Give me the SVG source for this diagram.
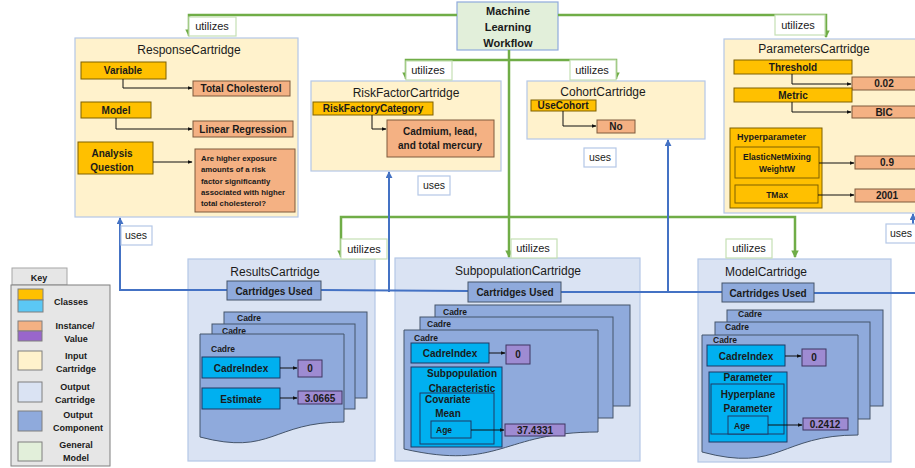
<svg xmlns="http://www.w3.org/2000/svg" width="915" height="468" viewBox="0 0 915 468">
<style>
text{font-family:"Liberation Sans",Arial,sans-serif;fill:#1a1a1a}
.t{font-size:12px}
.b10{font-size:10px;font-weight:bold}
.b9{font-size:9px;font-weight:bold}
.b8{font-size:8.5px;font-weight:bold}
.m{text-anchor:middle}
.inc{fill:#fff2cc;stroke:#b4c7e7;stroke-width:1.2}
.outc{fill:#dae3f3;stroke:#b4c7e7;stroke-width:1.2}
.comp{fill:#8faadc;stroke:#44546a;stroke-width:1}
.cls{fill:#ffc000;stroke:#7f6000;stroke-width:1}
.inst{fill:#f4b183;stroke:#7f5a3c;stroke-width:1}
.cyan{fill:#00b0f0;stroke:#1f3864;stroke-width:1}
.val{fill:#9e8bd2;stroke:#3f3460;stroke-width:1}
.gen{fill:#e2efda;stroke:#8faadc;stroke-width:1.2}
.gl{stroke:#70ad47;stroke-width:2.5;fill:none}
.bl{stroke:#4472c4;stroke-width:2;fill:none}
.kl{stroke:#111;stroke-width:1;fill:none}
.ul{fill:#fff;stroke:#c5e0b4;stroke-width:1.2}
.us{fill:#fff;stroke:#b4c7e7;stroke-width:1.2}
</style>
<defs>
<marker id="ag" viewBox="0 0 8 8" refX="7" refY="4" markerWidth="3" markerHeight="3" orient="auto"><path d="M0 0L8 4L0 8Z" fill="#70ad47"/></marker>
<marker id="ab" viewBox="0 0 8 8" refX="7" refY="4" markerWidth="3.5" markerHeight="3.5" orient="auto"><path d="M0 0L8 4L0 8Z" fill="#4472c4"/></marker>
<marker id="ak" viewBox="0 0 8 8" refX="7" refY="4" markerWidth="5" markerHeight="5" orient="auto"><path d="M0 1L8 4L0 7Z" fill="#111"/></marker>
</defs>

<!-- Key -->
<g id="key">
<rect x="12" y="268" width="55" height="17" fill="#e6e6e6" stroke="#a6a6a6"/>
<text class="b9 m" x="39" y="281">Key</text>
<rect x="11" y="285" width="99" height="181" fill="#e6e6e6" stroke="#7f7f7f"/>
<rect x="18" y="289" width="25" height="11" fill="#ffc000" stroke="#7f7f7f"/>
<rect x="18" y="300" width="25" height="12" fill="#5bc8f5" stroke="#7f7f7f"/>
<text class="b9 m" x="71" y="305">Classes</text>
<rect x="18" y="321" width="24" height="10" fill="#f4b183" stroke="#7f7f7f"/>
<rect x="18" y="331" width="24" height="10" fill="#9966cc" stroke="#7f7f7f"/>
<text class="b9 m" x="75" y="329">Instance/</text>
<text class="b9 m" x="76" y="342">Value</text>
<rect x="18" y="351" width="24" height="19" fill="#fff2cc" stroke="#7f7f7f"/>
<text class="b9 m" x="76" y="359">Input</text>
<text class="b9 m" x="76" y="372">Cartridge</text>
<rect x="18" y="382" width="24" height="20" fill="#dae3f3" stroke="#7f7f7f"/>
<text class="b9 m" x="75" y="390">Output</text>
<text class="b9 m" x="75" y="403">Cartridge</text>
<rect x="18" y="411" width="24" height="20" fill="#8faadc" stroke="#7f7f7f"/>
<text class="b9 m" x="78" y="418">Output</text>
<text class="b9 m" x="78" y="431">Component</text>
<rect x="18" y="442" width="24" height="19" fill="#e2efda" stroke="#7f7f7f"/>
<text class="b9 m" x="76" y="448">General</text>
<text class="b9 m" x="76" y="461">Model</text>
</g>

<!-- Machine Learning Workflow -->
<g id="ml">
<rect class="gen" x="457" y="2" width="101" height="48"/>
<text class="m" style="font-size:11px;font-weight:bold" x="508" y="15">Machine</text>
<text class="m" style="font-size:11px;font-weight:bold" x="508" y="31">Learning</text>
<text class="m" style="font-size:11px;font-weight:bold" x="508" y="47">Workflow</text>
</g>

<!-- ResponseCartridge -->
<g id="response">
<rect class="inc" x="75" y="38" width="223" height="179"/>
<text class="t m" x="189" y="54">ResponseCartridge</text>
<rect class="cls" x="81" y="62" width="85" height="17"/>
<text class="b10 m" x="123" y="74">Variable</text>
<rect class="inst" x="193" y="81" width="97" height="15"/>
<text class="b10 m" x="241" y="92">Total Cholesterol</text>
<path class="kl" d="M123 79V88H192" marker-end="url(#ak)"/>
<rect class="cls" x="81" y="102" width="70" height="16"/>
<text class="b10 m" x="116" y="114">Model</text>
<rect class="inst" x="193" y="121" width="100" height="16"/>
<text class="b10 m" x="243" y="133">Linear Regression</text>
<path class="kl" d="M116 118V129H192" marker-end="url(#ak)"/>
<rect class="cls" x="78" y="142" width="75" height="32"/>
<text class="b10 m" x="112" y="157">Analysis</text>
<text class="b10 m" x="112" y="171">Question</text>
<path class="kl" d="M153 162H192" marker-end="url(#ak)"/>
<rect class="inst" x="195" y="149" width="100" height="63"/>
<text style="font-size:7.8px;font-weight:bold" x="201" y="161">Are higher exposure</text>
<text style="font-size:7.8px;font-weight:bold" x="201" y="172">amounts of a risk</text>
<text style="font-size:7.8px;font-weight:bold" x="201" y="184">factor significantly</text>
<text style="font-size:7.8px;font-weight:bold" x="201" y="195">associated with higher</text>
<text style="font-size:7.8px;font-weight:bold" x="201" y="206">total cholesterol?</text>
</g>

<!-- RiskFactorCartridge -->
<g id="riskfactor">
<rect class="inc" x="311" y="81" width="190" height="90"/>
<text class="t m" x="406" y="97">RiskFactorCartridge</text>
<rect class="cls" x="313" y="102" width="120" height="13"/>
<text class="b10 m" x="373" y="112">RiskFactoryCategory</text>
<rect class="inst" x="387" y="120" width="107" height="37"/>
<text class="b10 m" x="440" y="135">Cadmium, lead,</text>
<text class="b10 m" x="440" y="149">and total mercury</text>
<path class="kl" d="M372 115V129H386" marker-end="url(#ak)"/>
</g>

<!-- CohortCartridge -->
<g id="cohort">
<rect class="inc" x="527" y="81" width="178" height="58"/>
<text class="t m" x="603" y="96">CohortCartridge</text>
<rect class="cls" x="531" y="100" width="65" height="11"/>
<text class="b10 m" x="563" y="109">UseCohort</text>
<rect class="inst" x="597" y="120" width="38" height="13"/>
<text class="b10 m" x="616" y="130">No</text>
<path class="kl" d="M563 111V126H596" marker-end="url(#ak)"/>
</g>

<!-- ParametersCartridge -->
<g id="parameters">
<rect class="inc" x="724" y="39" width="200" height="174"/>
<text class="t m" x="814" y="53">ParametersCartridge</text>
<rect class="cls" x="734" y="60" width="118" height="14"/>
<text class="b10 m" x="793" y="71">Threshold</text>
<rect class="inst" x="852" y="77" width="70" height="13"/>
<text class="b10 m" x="884" y="87">0.02</text>
<path class="kl" d="M792 74V84H851" marker-end="url(#ak)"/>
<rect class="cls" x="734" y="88" width="118" height="14"/>
<text class="b10 m" x="793" y="99">Metric</text>
<rect class="inst" x="852" y="106" width="70" height="12"/>
<text class="b10 m" x="884" y="116">BIC</text>
<path class="kl" d="M792 102V112H851" marker-end="url(#ak)"/>
<rect class="cls" x="730" y="128" width="92" height="80"/>
<text style="font-size:9px;font-weight:bold" x="737" y="140">Hyperparameter</text>
<rect class="cls" x="735" y="147" width="84" height="31"/>
<text class="b8 m" x="777" y="160">ElasticNetMixing</text>
<text class="b8 m" x="777" y="172">WeightW</text>
<rect class="cls" x="735" y="185" width="83" height="18"/>
<text class="b8 m" x="777" y="198">TMax</text>
<rect class="inst" x="855" y="156" width="67" height="13"/>
<text class="b10 m" x="887" y="166">0.9</text>
<rect class="inst" x="855" y="189" width="67" height="13"/>
<text class="b10 m" x="887" y="199">2001</text>
<path class="kl" d="M819 163H854" marker-end="url(#ak)"/>
<path class="kl" d="M818 195H854" marker-end="url(#ak)"/>
</g>

<!-- Output cartridge backgrounds -->
<g id="results-bg"><rect class="outc" x="188" y="259" width="187" height="202"/></g>
<g id="subpopulation-bg"><rect class="outc" x="395" y="258" width="245" height="203"/></g>
<g id="model-bg"><rect class="outc" x="698" y="259" width="193" height="203"/></g>

<!-- Connectors -->
<g id="connectors">
<path class="gl" d="M457 15H189V36" marker-end="url(#ag)"/>
<path class="gl" d="M558 15H826V37" marker-end="url(#ag)"/>
<path class="gl" d="M509 50V257" marker-end="url(#ag)"/>
<path class="gl" d="M509 60H406V79" marker-end="url(#ag)"/>
<path class="gl" d="M509 60H616V79" marker-end="url(#ag)"/>
<path class="gl" d="M509 217H341V257" marker-end="url(#ag)"/>
<path class="gl" d="M509 217H795V257" marker-end="url(#ag)"/>
<path class="bl" d="M227 290H120V218" marker-end="url(#ab)"/>
<path class="bl" d="M321 290L468 291"/>
<path class="bl" d="M389 292V172" marker-end="url(#ab)"/>
<path class="bl" d="M561 292H722"/>
<path class="bl" d="M668 293V140" marker-end="url(#ab)"/>
<path class="bl" d="M814 293H915"/>
<path class="bl" d="M913 224V214" marker-end="url(#ab)"/>
<rect class="ul" x="189" y="17" width="47" height="19"/>
<text class="m" style="font-size:11px" x="212" y="30">utilizes</text>
<rect class="ul" x="775" y="15" width="50" height="20"/>
<text class="m" style="font-size:11px" x="798" y="29">utilizes</text>
<rect class="ul" x="406" y="61" width="46" height="19"/>
<text class="m" style="font-size:11px" x="428" y="74">utilizes</text>
<rect class="ul" x="570" y="60" width="46" height="20"/>
<text class="m" style="font-size:11px" x="592" y="74">utilizes</text>
<rect class="ul" x="341" y="239" width="46" height="20"/>
<text class="m" style="font-size:11px" x="364" y="253">utilizes</text>
<rect class="ul" x="511" y="239" width="46" height="19"/>
<text class="m" style="font-size:11px" x="533" y="252">utilizes</text>
<rect class="ul" x="726" y="239" width="46" height="19"/>
<text class="m" style="font-size:11px" x="749" y="252">utilizes</text>
<rect class="us" x="121" y="226" width="31" height="19"/>
<text class="m" style="font-size:10.5px" x="136" y="239">uses</text>
<rect class="us" x="418" y="176" width="32" height="19"/>
<text class="m" style="font-size:10.5px" x="434" y="189">uses</text>
<rect class="us" x="584" y="148" width="32" height="19"/>
<text class="m" style="font-size:10.5px" x="600" y="161">uses</text>
<rect class="us" x="886" y="224" width="35" height="19"/>
<text class="m" style="font-size:10.5px" x="901" y="237">uses</text>
</g>

<!-- ResultsCartridge -->
<g id="results">
<text class="t m" x="275" y="276">ResultsCartridge</text>
<rect class="comp" x="227" y="281" width="94" height="19"/>
<text class="b10 m" x="274" y="295">Cartridges Used</text>
<rect class="comp" x="224" y="312" width="143" height="86"/>
<text class="b8" x="237" y="321">Cadre</text>
<rect class="comp" x="212" y="324" width="143" height="85"/>
<text class="b8" x="222" y="334">Cadre</text>
<path class="comp" d="M200 334H344V422C272 422 272 456 200 437Z"/>
<text class="b8" x="211" y="352">Cadre</text>
<rect class="cyan" x="202" y="357" width="78" height="21"/>
<text class="b10 m" x="241" y="372">CadreIndex</text>
<rect class="val" x="298" y="360" width="24" height="17"/>
<text class="b10 m" x="310" y="372">0</text>
<path class="kl" d="M280 368H297" marker-end="url(#ak)"/>
<rect class="cyan" x="202" y="388" width="78" height="21"/>
<text class="b10 m" x="241" y="403">Estimate</text>
<rect class="val" x="298" y="391" width="44" height="13"/>
<text class="b10 m" x="320" y="402">3.0665</text>
<path class="kl" d="M280 398H297" marker-end="url(#ak)"/>
</g>

<!-- SubpopulationCartridge -->
<g id="subpopulation">
<text class="t m" x="518" y="275">SubpopulationCartridge</text>
<rect class="comp" x="468" y="282" width="93" height="20"/>
<text class="b10 m" x="515" y="296">Cartridges Used</text>
<rect class="comp" x="435" y="305" width="195" height="101"/>
<text class="b8" x="443" y="315">Cadre</text>
<rect class="comp" x="420" y="317" width="193" height="101"/>
<text class="b8" x="427" y="327">Cadre</text>
<path class="comp" d="M404 330H598V432C501 432 501 471 404 449Z"/>
<text class="b8" x="414" y="341">Cadre</text>
<rect class="cyan" x="411" y="343" width="78" height="20"/>
<text class="b10 m" x="450" y="357">CadreIndex</text>
<rect class="val" x="506" y="345" width="24" height="19"/>
<text class="b10 m" x="518" y="358">0</text>
<path class="kl" d="M489 353H505" marker-end="url(#ak)"/>
<rect class="cyan" x="411" y="367" width="91" height="80"/>
<text class="b10 m" x="462" y="377">Subpopulation</text>
<text class="b10 m" x="462" y="392">Characteristic</text>
<rect class="cyan" x="420" y="393" width="74" height="51"/>
<text class="b10" x="425" y="403">Covariate</text>
<text class="b10 m" x="448" y="417">Mean</text>
<rect class="cyan" x="431" y="421" width="40" height="17"/>
<text class="b8" x="436" y="433">Age</text>
<rect class="val" x="505" y="424" width="60" height="12"/>
<text class="b10 m" x="535" y="434">37.4331</text>
<path class="kl" d="M471 430H504" marker-end="url(#ak)"/>
</g>

<!-- ModelCartridge -->
<g id="model">
<text class="t m" x="766" y="276">ModelCartridge</text>
<rect class="comp" x="722" y="283" width="92" height="19"/>
<text class="b10 m" x="768" y="297">Cartridges Used</text>
<rect class="comp" x="727" y="310" width="156" height="96"/>
<text class="b8" x="738" y="317">Cadre</text>
<rect class="comp" x="715" y="322" width="155" height="97"/>
<text class="b8" x="725" y="330">Cadre</text>
<path class="comp" d="M702 335H858V435C780 435 780 473 702 452Z"/>
<text class="b8" x="713" y="343">Cadre</text>
<rect class="cyan" x="707" y="345" width="78" height="21"/>
<text class="b10 m" x="746" y="360">CadreIndex</text>
<rect class="val" x="802" y="349" width="24" height="17"/>
<text class="b10 m" x="814" y="361">0</text>
<path class="kl" d="M785 356H801" marker-end="url(#ak)"/>
<rect class="cyan" x="709" y="372" width="78" height="70"/>
<text class="b10 m" x="748" y="381">Parameter</text>
<rect class="cyan" x="711" y="384" width="73" height="50"/>
<text class="b10 m" x="748" y="398">Hyperplane</text>
<text class="b10 m" x="748" y="412">Parameter</text>
<rect class="cyan" x="728" y="416" width="40" height="18"/>
<text class="b8" x="734" y="429">Age</text>
<rect class="val" x="803" y="418" width="45" height="12"/>
<text class="b10 m" x="825" y="428">0.2412</text>
<path class="kl" d="M768 425H802" marker-end="url(#ak)"/>
</g>
</svg>
